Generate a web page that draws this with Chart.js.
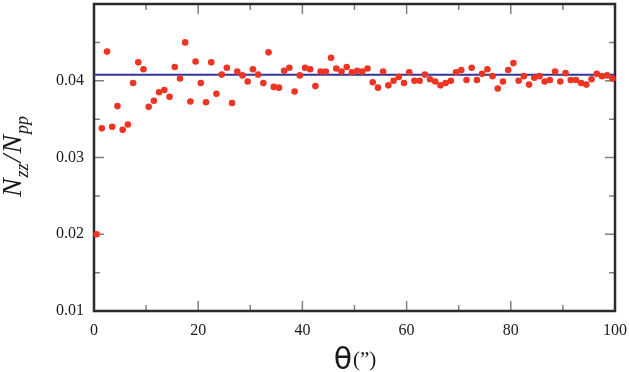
<!DOCTYPE html>
<html>
<head>
<meta charset="utf-8">
<script src="https://cdn.jsdelivr.net/npm/chart.js@4"></script>
<style>
    html, body { margin: 0; padding: 0; background: #ffffff; }
    #wrap { width: 629px; height: 372px; }
</style>
</head>
<body>
<div id="wrap"><canvas id="ratioChart"></canvas></div>
<script>
// Angle bins, theta (arcsec)
const thetaValues = [
    0.5, 1.5, 2.5, 3.5, 4.5, 5.5, 6.5, 7.5, 8.5, 9.5,
    10.5, 11.5, 12.5, 13.5, 14.5, 15.5, 16.5, 17.5, 18.5, 19.5,
    20.5, 21.5, 22.5, 23.5, 24.5, 25.5, 26.5, 27.5, 28.5, 29.5,
    30.5, 31.5, 32.5, 33.5, 34.5, 35.5, 36.5, 37.5, 38.5, 39.5,
    40.5, 41.5, 42.5, 43.5, 44.5, 45.5, 46.5, 47.5, 48.5, 49.5,
    50.5, 51.5, 52.5, 53.5, 54.5, 55.5, 56.5, 57.5, 58.5, 59.5,
    60.5, 61.5, 62.5, 63.5, 64.5, 65.5, 66.5, 67.5, 68.5, 69.5,
    70.5, 71.5, 72.5, 73.5, 74.5, 75.5, 76.5, 77.5, 78.5, 79.5,
    80.5, 81.5, 82.5, 83.5, 84.5, 85.5, 86.5, 87.5, 88.5, 89.5,
    90.5, 91.5, 92.5, 93.5, 94.5, 95.5, 96.5, 97.5, 98.5, 99.5
];

// Nzz / Npp ratio per bin
const ratioValues = [
    0.0200, 0.0338, 0.0438, 0.0340, 0.0367, 0.0336, 0.0343, 0.0397, 0.0424, 0.0415,
    0.0366, 0.0374, 0.0385, 0.0388, 0.0379, 0.0418, 0.0403, 0.0450, 0.0373, 0.0425,
    0.0397, 0.0372, 0.0424, 0.0383, 0.0408, 0.0417, 0.0371, 0.0412, 0.0407, 0.0399,
    0.0415, 0.0408, 0.0397, 0.0437, 0.0392, 0.0391, 0.0413, 0.0417, 0.0386, 0.0407,
    0.0417, 0.0415, 0.0393, 0.0412, 0.0412, 0.0430, 0.0416, 0.0412, 0.0418, 0.0411,
    0.0413, 0.0412, 0.0416, 0.0398, 0.0391, 0.0412, 0.0394, 0.0400, 0.0405, 0.0397,
    0.0411, 0.0400, 0.0400, 0.0408, 0.0402, 0.0399, 0.0394, 0.0397, 0.0400, 0.0411,
    0.0414, 0.0401, 0.0417, 0.0401, 0.0409, 0.0415, 0.0406, 0.0390, 0.0399, 0.0414,
    0.0423, 0.0400, 0.0406, 0.0395, 0.0404, 0.0406, 0.0399, 0.0401, 0.0412, 0.0399,
    0.0410, 0.0401, 0.0401, 0.0397, 0.0395, 0.0402, 0.0409, 0.0406, 0.0407, 0.0403
];

// Constant fit (mean level)
const fitTheta = [0, 100];
const fitValues = [0.04077, 0.04077];

// Tick labels
const xTickValues = [0, 20, 40, 60, 80, 100];
const yTickValues = [0.01, 0.02, 0.03, 0.04];
const xMinorValues = [10, 30, 50, 70, 90];
const yMinorValues = [0.015, 0.025, 0.035, 0.045];

const serif = '"Liberation Serif", "Times New Roman", "DejaVu Serif", serif';

// Frame with inward ticks on all four sides
const framePlugin = {
    id: 'frame',
    beforeDatasetsDraw(chart) {
        const { ctx, chartArea: a, scales } = chart;
        ctx.save();
        ctx.strokeStyle = '#808080';
        ctx.lineWidth = 1.5;
        const tickX = (v, len) => {
            const px = scales.x.getPixelForValue(v);
            ctx.beginPath();
            ctx.moveTo(px, a.bottom); ctx.lineTo(px, a.bottom - len);
            ctx.moveTo(px, a.top); ctx.lineTo(px, a.top + len);
            ctx.stroke();
        };
        const tickY = (v, len) => {
            const py = scales.y.getPixelForValue(v);
            ctx.beginPath();
            ctx.moveTo(a.left, py); ctx.lineTo(a.left + len, py);
            ctx.moveTo(a.right, py); ctx.lineTo(a.right - len, py);
            ctx.stroke();
        };
        xTickValues.forEach(v => tickX(v, 10));
        xMinorValues.forEach(v => tickX(v, 6));
        yTickValues.concat([0.05]).forEach(v => tickY(v, 10));
        yMinorValues.forEach(v => tickY(v, 6));

        ctx.strokeStyle = '#2a2a2a';
        ctx.lineWidth = 2.5;
        ctx.strokeRect(a.left, a.top, a.right - a.left, a.bottom - a.top);
        ctx.restore();
    }
};

// Axis titles with subscripts
const titlePlugin = {
    id: 'titles',
    afterDraw(chart) {
        const { ctx, chartArea: a } = chart;
        ctx.save();
        ctx.fillStyle = '#1a1a1a';
        ctx.textBaseline = 'alphabetic';

        // y title: N_zz / N_pp, rotated
        const big = 'italic 28px ' + serif;
        const small = 'italic 18px ' + serif;
        const parts = [
            { t: 'N', f: big, dy: 0 },
            { t: 'zz', f: small, dy: 7 },
            { t: '/', f: big, dy: 0 },
            { t: 'N', f: big, dy: 0 },
            { t: 'pp', f: small, dy: 7 }
        ];
        let total = 0;
        parts.forEach(p => { ctx.font = p.f; p.w = ctx.measureText(p.t).width + 1; total += p.w; });
        ctx.translate(21, 156);
        ctx.rotate(-Math.PI / 2);
        let x = -total / 2;
        parts.forEach(p => {
            ctx.font = p.f;
            ctx.fillText(p.t, x, p.dy);
            x += p.w;
        });
        ctx.setTransform(1, 0, 0, 1, 0, 0);

        // x title: theta ('')
        const cx = (a.left + a.right) / 2;
        const thetaFont = '30px "DejaVu Sans", sans-serif';
        const unitFont = '21px ' + serif;
        ctx.font = thetaFont;
        const wTheta = ctx.measureText('θ').width;
        ctx.font = unitFont;
        const wUnit = ctx.measureText('(”)').width;
        const sx = cx - (wTheta + wUnit) / 2;
        ctx.font = thetaFont;
        ctx.fillText('θ', sx, 369);
        ctx.font = unitFont;
        ctx.fillText('(”)', sx + wTheta + 1, 366);
        ctx.restore();
    }
};

function buildChart() {
    const ctx = document.getElementById('ratioChart').getContext('2d');
    return new Chart(ctx, {
        type: 'scatter',
        data: {
            datasets: [
                {
                    label: 'Nzz/Npp',
                    data: thetaValues.map((t, i) => ({ x: t, y: ratioValues[i] })),
                    backgroundColor: '#ee3524',
                    borderColor: '#ee3524',
                    borderWidth: 0,
                    pointRadius: 3.3,
                    clip: false,
                    order: 1
                },
                {
                    type: 'line',
                    label: 'fit',
                    data: fitTheta.map((t, i) => ({ x: t, y: fitValues[i] })),
                    borderColor: '#33349a',
                    borderWidth: 2,
                    pointRadius: 0,
                    fill: false,
                    order: 2
                }
            ]
        },
        options: {
            responsive: true,
            maintainAspectRatio: false,
            animation: false,
            layout: { padding: { left: 0, right: 14, top: -1, bottom: 0 } },
            plugins: {
                legend: { display: false },
                tooltip: { enabled: false }
            },
            scales: {
                x: {
                    type: 'linear',
                    min: 0,
                    max: 100,
                    afterFit: scale => {
                        scale.height = 61;
                        scale.paddingLeft = 0;
                        scale.paddingRight = 0;
                    },
                    afterBuildTicks: scale => { scale.ticks = xTickValues.map(v => ({ value: v })); },
                    grid: { display: false, drawTicks: false },
                    border: { display: false },
                    ticks: {
                        padding: 10,
                        maxRotation: 0,
                        color: '#1a1a1a',
                        font: { family: serif, size: 16 },
                        callback: v => String(v)
                    }
                },
                y: {
                    type: 'linear',
                    min: 0.01,
                    max: 0.05,
                    afterFit: scale => {
                        scale.width = 94;
                        scale.paddingTop = 0;
                        scale.paddingBottom = 0;
                    },
                    afterBuildTicks: scale => { scale.ticks = yTickValues.map(v => ({ value: v })); },
                    grid: { display: false, drawTicks: false },
                    border: { display: false },
                    ticks: {
                        padding: 10,
                        color: '#1a1a1a',
                        font: { family: serif, size: 16 },
                        callback: v => v.toFixed(2)
                    }
                }
            }
        },
        plugins: [framePlugin, titlePlugin]
    });
}

// Wait for local fonts before drawing
document.fonts.load('16px "Liberation Serif"')
    .then(() => document.fonts.load('italic 24px "Liberation Serif"'))
    .catch(() => {})
    .then(() => { window.ratioChart = buildChart(); });
</script>
</body>
</html>
